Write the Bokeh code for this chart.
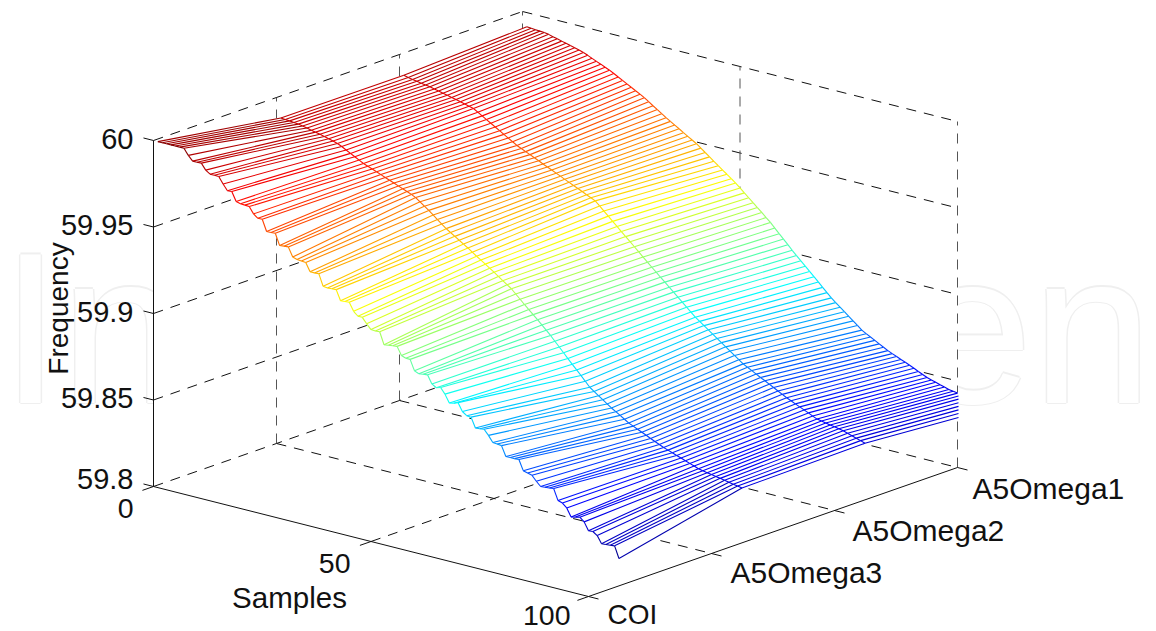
from math import pi
from bokeh.plotting import figure
from bokeh.models import Range1d
from bokeh.core.properties import value
from bokeh.embed import file_html
from bokeh.resources import INLINE

samples = list(range(1, 108))
coi = [60.0,60.0,60.0,60.0,60.0,60.0,60.0,59.9965,59.9938,59.9938,
59.9939,59.9905,59.9888,59.9888,59.9887,59.9850,59.9818,59.9820,59.9768,59.9762,
59.9760,59.9758,59.9722,59.9703,59.9704,59.9639,59.9640,59.9642,59.9577,59.9580,
59.9582,59.9530,59.9522,59.9520,59.9517,59.9470,59.9470,59.9472,59.9405,59.9402,
59.9404,59.9405,59.9347,59.9349,59.9351,59.9305,59.9283,59.9283,59.9252,59.9225,
59.9223,59.9225,59.9156,59.9160,59.9163,59.9166,59.9120,59.9110,59.9110,59.9050,
59.9040,59.9043,59.9046,59.9000,59.8984,59.8992,59.8960,59.8915,59.8920,59.8930,
59.8885,59.8867,59.8865,59.8809,59.8811,59.8814,59.8785,59.8750,59.8748,59.8745,
59.8688,59.8689,59.8689,59.8690,59.8632,59.8625,59.8618,59.8590,59.8566,59.8568,
59.8570,59.8573,59.8510,59.8502,59.8480,59.8434,59.8440,59.8446,59.8425,59.8380,
59.8382,59.8365,59.8324,59.8326,59.8328,59.8331,59.8264]
a5omega3 = [59.9888,59.9886,59.9884,59.9881,59.9878,59.9873,59.9868,59.9862,59.9857,59.9851,
59.9845,59.9838,59.9831,59.9823,59.9812,59.9798,59.9785,59.9772,59.9759,59.9746,
59.9736,59.9727,59.9717,59.9707,59.9697,59.9687,59.9677,59.9667,59.9657,59.9647,
59.9637,59.9625,59.9607,59.9588,59.9570,59.9550,59.9530,59.9510,59.9490,59.9474,
59.9458,59.9442,59.9426,59.9410,59.9392,59.9375,59.9359,59.9342,59.9325,59.9308,
59.9290,59.9272,59.9255,59.9238,59.9214,59.9190,59.9166,59.9143,59.9120,59.9097,
59.9073,59.9049,59.9025,59.8998,59.8971,59.8944,59.8917,59.8890,59.8864,59.8838,
59.8811,59.8783,59.8765,59.8747,59.8730,59.8712,59.8695,59.8680,59.8665,59.8649,
59.8633,59.8622,59.8610,59.8599,59.8588,59.8576,59.8565,59.8554,59.8543,59.8534,
59.8525,59.8516,59.8507,59.8498,59.8489,59.8480,59.8471,59.8466,59.8461,59.8456,
59.8451,59.8447,59.8442,59.8437,59.8432,59.8428,59.8423]
a5omega2 = [59.9886,59.9880,59.9875,59.9871,59.9866,59.9862,59.9858,59.9852,59.9846,59.9840,
59.9834,59.9828,59.9822,59.9816,59.9809,59.9803,59.9796,59.9781,59.9766,59.9751,
59.9736,59.9721,59.9706,59.9691,59.9676,59.9661,59.9646,59.9635,59.9623,59.9612,
59.9600,59.9589,59.9577,59.9566,59.9555,59.9543,59.9532,59.9520,59.9509,59.9497,
59.9486,59.9475,59.9463,59.9452,59.9440,59.9417,59.9394,59.9371,59.9347,59.9324,
59.9301,59.9278,59.9255,59.9232,59.9209,59.9185,59.9162,59.9139,59.9117,59.9094,
59.9072,59.9049,59.9027,59.9004,59.8982,59.8959,59.8937,59.8914,59.8896,59.8878,
59.8860,59.8841,59.8823,59.8805,59.8787,59.8769,59.8750,59.8732,59.8714,59.8701,
59.8688,59.8674,59.8661,59.8648,59.8635,59.8622,59.8608,59.8595,59.8582,59.8571,
59.8559,59.8548,59.8537,59.8526,59.8514,59.8503,59.8498,59.8493,59.8488,59.8484,
59.8479,59.8474,59.8466,59.8458,59.8450,59.8442,59.8433]
a5omega1 = [59.9918,59.9916,59.9914,59.9912,59.9910,59.9906,59.9899,59.9893,59.9886,59.9880,
59.9873,59.9867,59.9860,59.9852,59.9842,59.9831,59.9820,59.9810,59.9799,59.9788,
59.9775,59.9761,59.9748,59.9734,59.9721,59.9707,59.9694,59.9680,59.9663,59.9646,
59.9630,59.9613,59.9596,59.9581,59.9566,59.9551,59.9535,59.9520,59.9505,59.9490,
59.9471,59.9452,59.9433,59.9414,59.9395,59.9376,59.9358,59.9339,59.9320,59.9298,
59.9276,59.9254,59.9232,59.9210,59.9188,59.9165,59.9143,59.9117,59.9091,59.9066,
59.9040,59.9014,59.8990,59.8966,59.8941,59.8917,59.8893,59.8869,59.8844,59.8820,
59.8796,59.8775,59.8755,59.8735,59.8715,59.8695,59.8675,59.8654,59.8640,59.8627,
59.8614,59.8600,59.8587,59.8574,59.8563,59.8553,59.8542,59.8532,59.8521,59.8510,
59.8498,59.8487,59.8476,59.8468,59.8461,59.8453,59.8446,59.8438,59.8434,59.8430,
59.8425,59.8420,59.8412,59.8405,59.8398,59.8390,59.8381]
series_values = [coi, a5omega3, a5omega2, a5omega1]
series_labels = ["COI", "A5Omega3", "A5Omega2", "A5Omega1"]
series_ticks = [1, 2, 3, 4]
z_ticks = [59.8, 59.85, 59.9, 59.95, 60.0]
z_labels = ["59.8", "59.85", "59.9", "59.95", "60"]
sample_ticks = [0, 50, 100]
sample_labels = ["0", "50", "100"]
S_MAX, Y_MIN, Y_MAX, Z_MIN, Z_MAX = 100, 1, 4, 59.8, 60.0

def proj(s, y, z):
    return (153 + 4.35 * s + 123 * (y - 1),
            486 + 1.1 * s - 43 * (y - 1) - (z - Z_MIN) * 1730)

CLIP_X = 958
def clip_to(a, b):
    if b[0] <= CLIP_X:
        return b
    t = (CLIP_X - a[0]) / (b[0] - a[0])
    return (CLIP_X, a[1] + t * (b[1] - a[1]))

def jet(t):
    t = min(1.0, max(0.0, t))
    f = lambda c: int(255 * min(1.0, max(0.0, 1.5 - abs(4 * t - c))))
    return "#%02x%02x%02x" % (f(3), f(2), f(1))

zlo = min(min(v) for v in series_values)
zhi = max(max(v) for v in series_values)
col = lambda z: jet((z - zlo) / (zhi - zlo))

p = figure(width=1156, height=631, output_backend="svg", toolbar_location=None,
           x_range=Range1d(0, 1156), y_range=Range1d(631, 0),
           x_axis_location=None, y_axis_location=None, min_border=0,
           outline_line_color=None, background_fill_color="white", border_fill_color="white")
p.grid.visible = False

FONT = value("Liberation Sans")

# watermark: only its two ends show beside the white plot box
WM = dict(x=[0, 1152], y=[327, 327], text=["In", "en"], text_font=FONT,
          text_font_size="216px", text_baseline="alphabetic",
          text_align=["left", "right"])
for dx, dy in [(-1.5, 0), (1.5, 0), (0, -1.5), (0, 1.5)]:
    p.text(text_color="#efefef", x_offset=dx, y_offset=dy, **WM)
p.text(text_color="white", **WM)
p.quad(left=[proj(0, 1, Z_MIN)[0]], right=[CLIP_X], top=[200], bottom=[470],
       fill_color="white", line_color=None)

def seg(a, b):
    return [a[0], b[0]], [a[1], b[1]]

# dashed grid: walls and floor
dx, dy = [], []
def dash(a, b):
    x, y = seg(proj(*a), proj(*b)); dx.append(x); dy.append(y)
for z in z_ticks:
    dash((0, Y_MIN, z), (0, Y_MAX, z))
    dash((0, Y_MAX, z), (S_MAX, Y_MAX, z))
for y in series_ticks[1:-1]:
    dash((0, y, Z_MIN), (S_MAX, y, Z_MIN))
for s in sample_ticks[1:-1]:
    dash((s, Y_MIN, Z_MIN), (s, Y_MAX, Z_MIN))
p.multi_line(dx, dy, line_color="#111111", line_width=1, line_dash="10 8")
vx, vy = [], []
for y in series_ticks[1:]:
    x_, y_ = seg(proj(0, y, Z_MIN), proj(0, y, Z_MAX)); vx.append(x_); vy.append(y_)
for s in sample_ticks[1:]:
    x_, y_ = seg(proj(s, Y_MAX, Z_MIN), proj(s, Y_MAX, Z_MAX)); vx.append(x_); vy.append(y_)
p.multi_line(vx, vy, line_color="#555555", line_width=1, line_dash="10 8")

# solid axes and ticks
ax, ay = [], []
def solid(a, b):
    x, y = seg(a, b); ax.append(x); ay.append(y)
solid(proj(0, 1, Z_MIN), proj(0, 1, Z_MAX))
solid(proj(0, 1, Z_MIN), proj(S_MAX, 1, Z_MIN))
solid(proj(S_MAX, 1, Z_MIN), proj(S_MAX, 4, Z_MIN))
for z in z_ticks:
    solid(proj(0, 1, z), proj(-2.3, 1, z))
for s in sample_ticks:
    solid(proj(s, 1, Z_MIN), proj(s, 0.91, Z_MIN))
for y in series_ticks:
    solid(proj(S_MAX, y, Z_MIN), proj(S_MAX + 2.3, y, Z_MIN))
p.multi_line(ax, ay, line_color="#111111", line_width=1)

# mesh
pts = [[proj(s, i + 1, series_values[i][k]) for k, s in enumerate(samples)] for i in range(4)]
for k in range(len(samples)):
    pts[3][k] = clip_to(pts[2][k], pts[3][k])
qx, qy, lx, ly, lc = [], [], [], [], []
n = len(samples)
for i in range(3):
    for k in range(n - 1):
        q = [pts[i][k], pts[i + 1][k], pts[i + 1][k + 1], pts[i][k + 1]]
        qx.append([c[0] for c in q]); qy.append([c[1] for c in q])
p.patches(qx, qy, fill_color="white", line_color="white", line_width=1)
for i in range(4):
    for k in range(n):
        if i < 3:
            x, y = seg(pts[i][k], pts[i + 1][k])
            lx.append(x); ly.append(y)
            lc.append(col((series_values[i][k] + series_values[i + 1][k]) / 2))
        if k < n - 1 and not (i == 3 and pts[i][k + 1][0] >= CLIP_X):
            x, y = seg(pts[i][k], pts[i][k + 1])
            lx.append(x); ly.append(y)
            lc.append(col((series_values[i][k] + series_values[i][k + 1]) / 2))
p.multi_line(lx, ly, line_color=lc, line_width=1.1)

# labels
TXT = dict(text_font=FONT, text_color="#111111", text_baseline="middle")
zl_y = [proj(0, 1, z)[1] - 2 for z in z_ticks]
zl_y[0] = 478
p.text(x=[133] * 5, y=zl_y, text=z_labels, text_align="right", text_font_size="29px", **TXT)
p.text(x=[133, 350, 570], y=[508, 563, 615], text=sample_labels, text_align="right", text_font_size="28.5px", **TXT)
p.text(x=[730, 852, 972], y=[572, 530, 488], text=series_labels[1:], text_align="left", text_font_size="30px", **TXT)
p.text(x=[607], y=[614], text=series_labels[:1], text_align="left", text_font_size="28px", **TXT)
p.text(x=[289], y=[597], text=["Samples"], text_align="center", text_font_size="29.5px", **TXT)
p.text(x=[58], y=[308], text=["Frequency"], text_align="center", angle=pi / 2, text_font_size="28px", **TXT)

open("out.html", "w").write(file_html(p, INLINE))
